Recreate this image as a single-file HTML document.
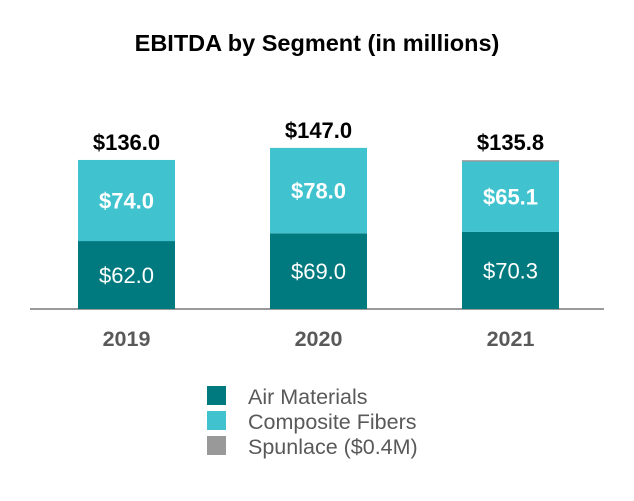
<!DOCTYPE html>
<html><head><meta charset="utf-8"><style>
body{margin:0;background:#fff;font-family:"Liberation Sans",sans-serif}
</style></head><body>
<svg id="c" width="634" height="496" xmlns="http://www.w3.org/2000/svg">
<text x="317" y="51" text-anchor="middle" font-size="23.5" font-weight="bold" fill="#000">EBITDA by Segment (in millions)</text>
<line x1="30" y1="309" x2="604" y2="309" stroke="#9a9a9a" stroke-width="2"/>
<g id="bars"></g>
<g>
<rect x="207" y="386" width="19" height="19" fill="#007A7E"/>
<text x="248" y="404" font-size="21.5" fill="#595959">Air Materials</text>
<rect x="207" y="411" width="19" height="19" fill="#40C3CF"/>
<text x="248" y="429" font-size="21.5" fill="#595959">Composite Fibers</text>
<rect x="207" y="436" width="19" height="19" fill="#999999"/>
<text x="248" y="454" font-size="21.5" fill="#595959">Spunlace ($0.4M)</text>
</g>
</svg>
<script>
const categories=["2019","2020","2021"];
const airValues=[62.0,69.0,70.3];
const compositeValues=[74.0,78.0,65.1];
const spunlaceValues=[0,0,0.4];
const totalLabels=["$136.0","$147.0","$135.8"];
const NS="http://www.w3.org/2000/svg";
const base=309, scale=1.096;
const y=v=>base-v*scale;
const xc=i=>126.5+i*192;
const bw=97;
const g=document.getElementById('bars');
function mk(tag,attrs,txt){const e=document.createElementNS(NS,tag);for(const k in attrs)e.setAttribute(k,attrs[k]);if(txt!==undefined)e.textContent=txt;g.appendChild(e);return e;}
categories.forEach((c,i)=>{
  const x=xc(i)-bw/2;
  const a=airValues[i],b=compositeValues[i],s=spunlaceValues[i];
  let r=mk('rect',{x:x,y:y(a),width:bw,height:a*scale,fill:'#007A7E'});
  
  
  r=mk('rect',{x:x,y:y(a+b),width:bw,height:b*scale,fill:'#40C3CF'});
  
  
  if(s>0){r=mk('rect',{x:x,y:y(a+b+s),width:bw,height:Math.max(s*scale,1.5),fill:'#999999'});
  
  }
  let t=mk('text',{x:xc(i),y:y(a/2)+8,'text-anchor':'middle','font-size':22,fill:'#fff'},'$'+a.toFixed(1));
  
  
  t=mk('text',{x:xc(i),y:y(a+b/2)+8,'text-anchor':'middle','font-size':22,'font-weight':'bold',fill:'#fff'},'$'+b.toFixed(1));
  
  
  t=mk('text',{x:xc(i),y:y(a+b+s)-10,'text-anchor':'middle','font-size':22,'font-weight':'bold',fill:'#000'},totalLabels[i]);
  
  
  t=mk('text',{x:xc(i),y:346,'text-anchor':'middle','font-size':21.5,'font-weight':'bold',fill:'#595959'},c);
  
  
});
</script>
</body></html>
